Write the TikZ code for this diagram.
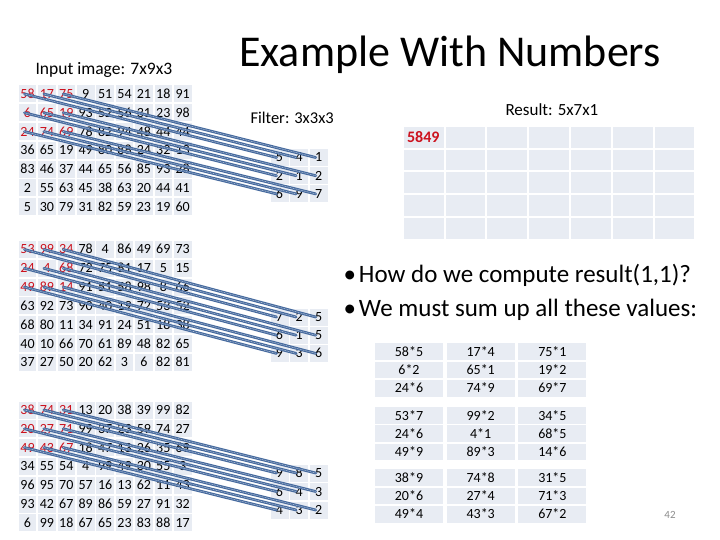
\documentclass[tikz,border=0pt]{standalone}
\usepackage{fontspec}
\setmainfont{Carlito}[Numbers=Lining]
\usepackage{tikz}

\definecolor{cellgray}{RGB}{232,236,243}
\definecolor{hotred}{RGB}{204,18,30}
\definecolor{wireblue}{RGB}{70,106,158}
\definecolor{pagegray}{RGB}{140,140,140}
\newcommand{\fsz}[1]{\fontsize{#1}{#1}\selectfont}

\begin{document}
\begin{tikzpicture}[x=1pt,y=-1pt,
    cell/.style={fill=cellgray, minimum width=17.6pt, minimum height=17pt, inner sep=0pt, text height=9pt, text depth=0pt, font=\fsz{14}},
    fcell/.style={fill=cellgray, minimum width=18pt, minimum height=17pt, inner sep=0pt, text height=9pt, text depth=0pt, font=\fsz{14}},
    rcell/.style={fill=cellgray, minimum width=39.8pt, minimum height=20.9pt, inner sep=0pt},
    tcell/.style={fill=cellgray, minimum width=68pt, minimum height=16.7pt, inner sep=0pt, text height=9pt, text depth=0pt, font=\fsz{14}},
    wire/.style={line width=2.8pt, draw=wireblue, line cap=round,
      postaction={draw=white!70!wireblue, line width=0.5pt, dash pattern=on 0.6pt off 1pt}}]
  \useasboundingbox (0,0) rectangle (720,540);

  % titles
  \node[anchor=base, font=\fsz{44}] (title) at (450,67) {Example With Numbers};
  \node[anchor=west, font=\fsz{17.5}] (inlabel) at (32,70) {Input image: 7x9x3};
  \node[anchor=west, font=\fsz{16.5}] (flabel) at (247,118) {Filter: 3x3x3};
  \node[anchor=west, font=\fsz{17}] (rlabel) at (502,110) {Result: 5x7x1};

  % input image, three channels
  \foreach \row [count=\r] in {{58,17,75,9,51,54,21,18,91},{6,65,19,93,52,56,31,23,98},{24,74,69,78,82,94,48,44,44},{36,65,19,49,80,88,24,32,13},{83,46,37,44,65,56,85,93,28},{2,55,63,45,38,63,20,44,41},{5,30,79,31,82,59,23,19,60}}
    \foreach \v [count=\c] in \row {
      \ifnum\r<4 \ifnum\c<4 \def\ink{hotred}\else\def\ink{black}\fi\else\def\ink{black}\fi
      \node[cell, text=\ink] (a-\r-\c) at ({27.5+19.4*(\c-1)},{94+18.8*(\r-1)}) {\v};
    }
  \foreach \row [count=\r] in {{53,99,34,78,4,86,49,69,73},{24,4,68,72,75,81,17,5,15},{49,89,14,91,51,58,98,8,66},{63,92,73,90,40,19,72,53,52},{68,80,11,34,91,24,51,18,38},{40,10,66,70,61,89,48,82,65},{37,27,50,20,62,3,6,82,81}}
    \foreach \v [count=\c] in \row {
      \ifnum\r<4 \ifnum\c<4 \def\ink{hotred}\else\def\ink{black}\fi\else\def\ink{black}\fi
      \node[cell, text=\ink] (b-\r-\c) at ({27.5+19.4*(\c-1)},{249.5+18.8*(\r-1)}) {\v};
    }
  \foreach \row [count=\r] in {{38,74,31,13,20,38,39,99,82},{20,27,71,99,37,23,59,74,27},{49,43,67,18,47,13,26,35,69},{34,55,54,4,99,49,30,55,3},{96,95,70,57,16,13,62,11,43},{93,42,67,89,86,59,27,91,32},{6,99,18,67,65,23,83,88,17}}
    \foreach \v [count=\c] in \row {
      \ifnum\r<4 \ifnum\c<4 \def\ink{hotred}\else\def\ink{black}\fi\else\def\ink{black}\fi
      \node[cell, text=\ink] (c-\r-\c) at ({27.5+19.4*(\c-1)},{410+18.8*(\r-1)}) {\v};
    }

  % filter, three channels
  \foreach \row [count=\r] in {{5,4,1},{2,1,2},{6,9,7}}
    \foreach \v [count=\c] in \row
      \node[fcell] (fa-\r-\c) at ({279.5+19.6*(\c-1)},{157.5+18.2*(\r-1)}) {\v};
  \foreach \row [count=\r] in {{7,2,5},{6,1,5},{9,3,6}}
    \foreach \v [count=\c] in \row
      \node[fcell] (fb-\r-\c) at ({279.5+19.6*(\c-1)},{317+18.2*(\r-1)}) {\v};
  \foreach \row [count=\r] in {{9,8,5},{6,4,3},{4,3,2}}
    \foreach \v [count=\c] in \row
      \node[fcell] (fc-\r-\c) at ({279.5+19.6*(\c-1)},{473+18.5*(\r-1)}) {\v};

  % result grid
  \foreach \r in {1,...,5}
    \foreach \c in {1,...,7}
      \node[rcell] (res-\r-\c) at ({423.6+41.8*(\c-1)},{137.1+22.9*(\r-1)}) {};
  \node[anchor=west, text=hotred, font=\bfseries\fsz{16}] (sum) at (403.5,137.1) {5849};

  % wires from input to filter
  \foreach \r in {1,2,3}
    \foreach \c in {1,2,3} {
      \draw[wire] ([xshift=-3pt]a-\r-\c.center) -- ([xshift=-3pt]fa-\r-\c.center);
      \draw[wire] ([xshift=-3pt]b-\r-\c.center) -- ([xshift=-3pt]fb-\r-\c.center);
      \draw[wire] ([xshift=-3pt]c-\r-\c.center) -- ([xshift=-3pt]fc-\r-\c.center);
    }

  % bullets
  \node[anchor=west, font=\fsz{25}] (q1) at (340,275) {\textbullet\hspace{3pt}How do we compute result(1,1)?};
  \node[anchor=west, font=\fsz{25}] (q2) at (340,310) {\textbullet\hspace{3pt}We must sum up all these values:};

  % products
  \foreach \row [count=\r] in {{58*5,17*4,75*1},{6*2,65*1,19*2},{24*6,74*9,69*7}}
    \foreach \v [count=\c] in \row
      \node[tcell] (pa-\r-\c) at ({409+71.7*(\c-1)},{351.7+18.3*(\r-1)}) {\v};
  \foreach \row [count=\r] in {{53*7,99*2,34*5},{24*6,4*1,68*5},{49*9,89*3,14*6}}
    \foreach \v [count=\c] in \row
      \node[tcell] (pb-\r-\c) at ({409+71.7*(\c-1)},{415.5+18.3*(\r-1)}) {\v};
  \foreach \row [count=\r] in {{38*9,74*8,31*5},{20*6,27*4,71*3},{49*4,43*3,67*2}}
    \foreach \v [count=\c] in \row
      \node[tcell] (pc-\r-\c) at ({409+71.7*(\c-1)},{477.8+18.3*(\r-1)}) {\v};

  \node[text=pagegray, font=\fsz{11}] (page) at (670,515) {42};
\end{tikzpicture}
\end{document}
